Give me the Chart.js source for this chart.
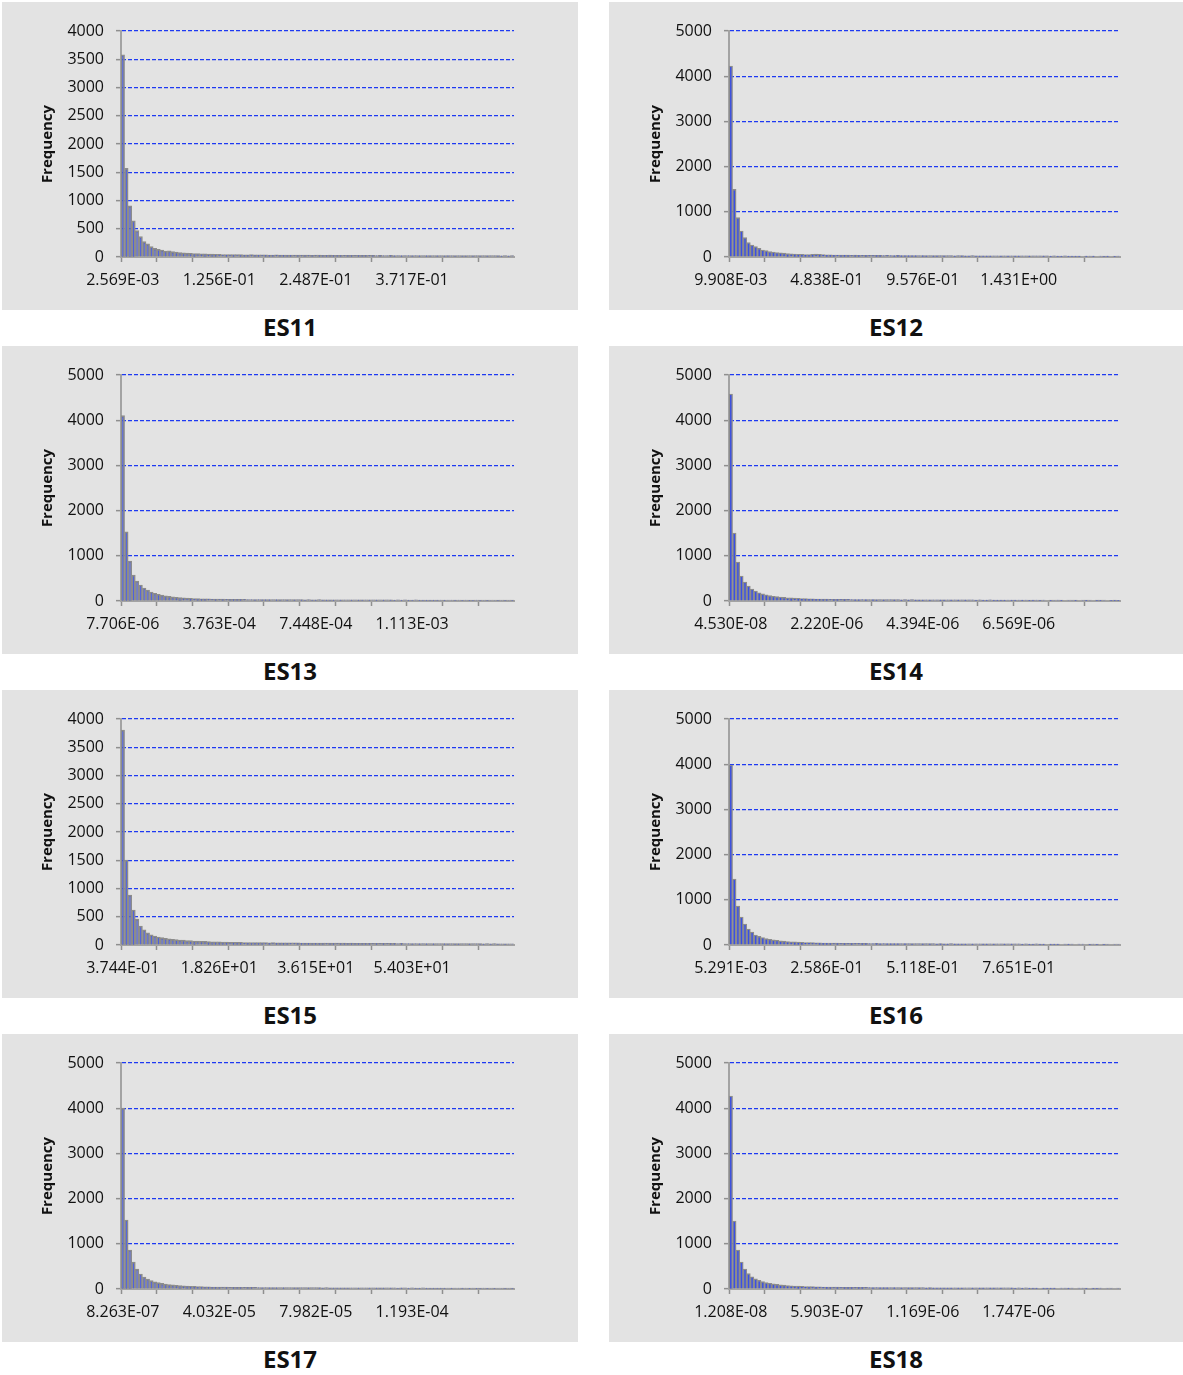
<!DOCTYPE html>
<html>
<head>
<meta charset="utf-8">
<title>ES11 - ES18 histograms</title>
<script src="https://cdn.jsdelivr.net/npm/chart.js@4.4.1/dist/chart.umd.min.js"></script>
<style>
  body { margin: 0; background: #fff; font-family: 'Open Sans', sans-serif; }
  .panel { position: absolute; height: 308px; background: #e3e3e3; }
  .col0 { left: 2px; width: 576px; }
  .col1 { left: 609px; width: 574px; }
  .cap { position: absolute; height: 34px; line-height: 34px; text-align: center;
         font-weight: bold; font-size: 24px; color: #111; }
</style>
</head>
<body>

<div class="panel col0" style="top:2px"><canvas id="es11" width="576" height="308"></canvas></div>
<div class="cap col0" style="top:310px">ES11</div>
<div class="panel col1" style="top:2px"><canvas id="es12" width="574" height="308"></canvas></div>
<div class="cap col1" style="top:310px">ES12</div>

<div class="panel col0" style="top:346px"><canvas id="es13" width="576" height="308"></canvas></div>
<div class="cap col0" style="top:654px">ES13</div>
<div class="panel col1" style="top:346px"><canvas id="es14" width="574" height="308"></canvas></div>
<div class="cap col1" style="top:654px">ES14</div>

<div class="panel col0" style="top:690px"><canvas id="es15" width="576" height="308"></canvas></div>
<div class="cap col0" style="top:998px">ES15</div>
<div class="panel col1" style="top:690px"><canvas id="es16" width="574" height="308"></canvas></div>
<div class="cap col1" style="top:998px">ES16</div>

<div class="panel col0" style="top:1034px"><canvas id="es17" width="576" height="308"></canvas></div>
<div class="cap col0" style="top:1342px">ES17</div>
<div class="panel col1" style="top:1034px"><canvas id="es18" width="574" height="308"></canvas></div>
<div class="cap col1" style="top:1342px">ES18</div>

<script>
// bin counts (110 bins per histogram)
const es11Counts = [3580,1570,905,640,468,360,272,232,185,153,
  136,124,104,110,94,86,80,74,68,65, 62,60,56,58,52,50,48,49,45,44,
  45,42,41,43,40,39,41,38,39,37, 38,36,36,37,35,35,34,35,33,34,
  33,32,33,31,33,32,30,31,32,30, 31,30,29,30,28,29,30,28,28,29,
  28,27,28,27,27,28,26,27,26,27, 27,26,27,26,25,26,26,25,26,25,
  24,26,25,24,25,24,24,25,24,23, 24,23,24,23,23,24,22,23,22,23];
const es12Counts = [4226,1497,870,575,428,317,265,228,192,155,
  140,118,110,100,95,84,76,70,66,60, 58,55,52,60,64,58,54,50,47,45,
  44,42,43,40,39,40,38,39,37,36, 36,37,35,34,36,34,33,35,32,33,
  32,33,32,31,33,30,31,30,30,31, 30,29,31,28,29,30,28,28,29,28,
  27,27,28,27,26,26,27,26,25,26, 25,25,26,24,25,26,24,24,25,24,
  23,24,23,23,24,22,22,23,22,0, 22,21,23,0,21,20,22,0,20,21];
const es13Counts = [4100,1530,885,575,442,354,288,243,200,172,
  150,130,116,102,92,82,76,70,64,60, 56,53,50,48,46,44,42,41,40,39,
  38,37,37,35,36,34,34,33,34,32, 32,33,31,32,30,31,30,31,30,29,
  30,28,29,28,28,29,27,28,27,28, 26,27,26,26,27,26,25,25,26,25,
  24,25,24,25,24,25,23,24,23,24, 23,22,24,23,22,23,22,22,23,21,
  22,21,21,22,21,20,21,20,20,21, 20,19,20,19,19,20,19,18,19,18];
const es14Counts = [4580,1504,862,553,420,332,265,221,182,158,
  138,120,106,96,88,80,72,68,62,58, 55,52,50,47,45,43,42,40,39,38,
  37,36,35,36,34,33,33,34,32,31, 32,30,31,30,31,29,30,29,28,29,
  28,29,28,27,28,26,27,26,26,27, 25,26,25,26,25,24,25,24,24,23,
  24,23,23,24,22,23,22,23,21,22, 22,21,22,21,20,22,21,20,21,0,
  20,19,21,20,0,19,19,20,0,19, 18,19,0,18,18,19,0,17,18,17];
const es15Counts = [3805,1504,885,620,460,336,268,215,182,160,
  142,131,119,111,101,97,89,85,79,77, 71,69,65,64,59,58,55,55,51,50,
  49,47,48,46,45,44,43,44,42,42, 41,40,41,39,40,38,39,37,37,38,
  36,35,36,34,35,34,34,33,34,32, 33,32,32,31,32,31,30,31,30,30,
  29,30,29,28,29,28,28,27,28,27, 27,26,27,26,27,26,25,26,25,25,
  26,24,25,24,24,25,23,24,23,23, 24,22,23,22,23,22,21,22,21,21];
const es16Counts = [3982,1460,863,620,465,354,288,221,190,165,
  142,128,112,104,92,86,78,72,68,63, 60,56,54,51,49,47,45,43,42,41,
  40,39,38,39,37,36,36,37,35,34, 34,35,33,34,32,33,32,32,31,32,
  31,30,31,29,30,29,30,29,28,30, 28,27,29,27,27,28,27,26,27,26,
  26,27,25,26,25,24,26,25,24,25, 24,24,23,24,23,23,24,22,23,0,
  22,22,23,0,21,22,21,0,21,21, 0,20,21,20,0,20,19,0,19,19];
const es17Counts = [4004,1527,863,597,442,332,265,221,186,160,
  140,124,110,100,90,82,76,70,66,61, 58,55,52,50,47,45,43,42,41,40,
  39,38,37,38,36,35,35,36,34,33, 34,32,32,33,31,32,31,31,30,30,
  31,29,30,29,29,30,28,29,28,27, 28,27,27,28,26,26,27,26,26,25,
  26,25,25,25,24,25,24,23,25,24, 23,24,23,23,24,22,23,22,22,23,
  22,21,22,21,21,22,21,20,21,20, 20,21,20,19,20,19,19,20,19,18];
const es18Counts = [4270,1504,863,597,442,340,270,224,190,162,
  142,126,112,102,92,84,78,72,67,63, 59,56,53,51,48,46,44,43,42,41,
  40,39,38,37,38,36,35,35,36,34, 33,34,33,32,33,31,32,31,30,31,
  30,30,29,30,29,28,30,28,28,28, 27,28,27,26,28,27,26,26,27,26,
  25,25,26,25,25,24,25,24,24,25, 23,24,23,24,23,23,22,0,23,22,
  22,22,0,21,21,22,21,0,21,21, 20,0,20,20,21,0,19,19,0,19];

// x tick labels (one every 27 bins)
const es11Ticks = ['2.569E-03', '1.256E-01', '2.487E-01', '3.717E-01'];
const es12Ticks = ['9.908E-03', '4.838E-01', '9.576E-01', '1.431E+00'];
const es13Ticks = ['7.706E-06', '3.763E-04', '7.448E-04', '1.113E-03'];
const es14Ticks = ['4.530E-08', '2.220E-06', '4.394E-06', '6.569E-06'];
const es15Ticks = ['3.744E-01', '1.826E+01', '3.615E+01', '5.403E+01'];
const es16Ticks = ['5.291E-03', '2.586E-01', '5.118E-01', '7.651E-01'];
const es17Ticks = ['8.263E-07', '4.032E-05', '7.982E-05', '1.193E-04'];
const es18Ticks = ['1.208E-08', '5.903E-07', '1.169E-06', '1.747E-06'];

// y axis: max and step
const es11Y = [4000, 500];
const es12Y = [5000, 1000];
const es13Y = [5000, 1000];
const es14Y = [5000, 1000];
const es15Y = [4000, 500];
const es16Y = [5000, 1000];
const es17Y = [5000, 1000];
const es18Y = [5000, 1000];

const labelEvery = 27;
const tickEvery = 10;

Chart.defaults.font.family = "'Open Sans', sans-serif";
Chart.defaults.color = '#111';

function histogram(id, counts, xTicks, yAxis, rightCol) {
  let ctx = document.getElementById(id);
  return new Chart(ctx, {
    type: 'bar',
    data: {
      labels: counts.map((c, i) => i),
      datasets: [{
        data: counts,
        backgroundColor: '#3a4fe6',
        borderColor: '#8c8c8c',
        borderWidth: rightCol ? 1.4 : 1.7,
        barPercentage: 1,
        categoryPercentage: 1
      }]
    },
    options: {
      responsive: false,
      animation: false,
      layout: { padding: { left: rightCol ? 34 : 33, top: 29, right: rightCol ? 63 : 64, bottom: 0 } },
      plugins: { legend: { display: false }, tooltip: { enabled: false } },
      scales: {
        x: {
          afterFit: s => { s.height = 53; },
          grid: {
            offset: true,
            drawOnChartArea: false,
            tickLength: 5,
            tickWidth: 1.5,
            tickColor: c => (c.index === undefined || c.index % tickEvery === 0) ? '#8f8f8f' : 'rgba(0,0,0,0)'
          },
          border: { color: '#a3a3a3', width: 2 },
          ticks: {
            autoSkip: false,
            maxRotation: 0,
            minRotation: 0,
            padding: 9,
            font: { size: 16 },
            callback: (v, i) => i % labelEvery === 0 ? xTicks[i / labelEvery] : ''
          }
        },
        y: {
          min: 0,
          max: yAxis[0],
          afterFit: s => { s.width = 86; },
          grid: {
            color: c => c.tick && c.tick.value === 0 ? 'rgba(0,0,0,0)' : '#1e3af2',
            lineWidth: 1.3,
            tickLength: 5,
            tickWidth: 1.5,
            tickColor: '#8f8f8f'
          },
          border: { color: '#a3a3a3', width: 2, dash: [4, 2] },
          ticks: { stepSize: yAxis[1], padding: 12, font: { size: 16 }, callback: v => String(v) },
          title: {
            display: true,
            text: 'Frequency',
            font: { size: 15, weight: 'bold' },
            padding: { top: 4, bottom: 0 }
          }
        }
      }
    }
  });
}

histogram('es11', es11Counts, es11Ticks, es11Y, false);
histogram('es12', es12Counts, es12Ticks, es12Y, true);
histogram('es13', es13Counts, es13Ticks, es13Y, false);
histogram('es14', es14Counts, es14Ticks, es14Y, true);
histogram('es15', es15Counts, es15Ticks, es15Y, false);
histogram('es16', es16Counts, es16Ticks, es16Y, true);
histogram('es17', es17Counts, es17Ticks, es17Y, false);
histogram('es18', es18Counts, es18Ticks, es18Y, true);
</script>
</body>
</html>
